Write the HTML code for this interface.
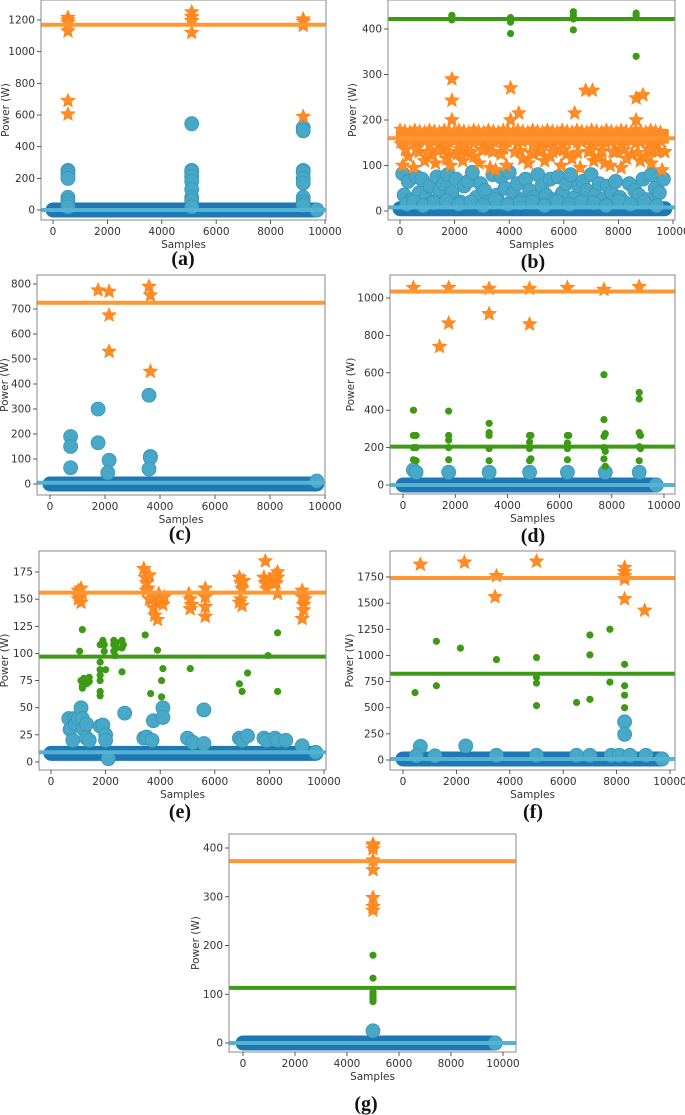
<!DOCTYPE html>
<html><head><meta charset="utf-8">
<style>
html,body{margin:0;padding:0;background:#fff;}
svg{display:block;}
.tk{font-family:"DejaVu Sans","Liberation Sans",sans-serif;font-size:10.5px;fill:#333;}
.al{font-family:"DejaVu Sans","Liberation Sans",sans-serif;font-size:10.5px;fill:#333;}
.cap{font-family:"Liberation Serif",serif;font-size:20px;font-weight:bold;fill:#111;}
</style></head>
<body>
<svg id="fig" width="685" height="1115" viewBox="0 0 685 1115" xmlns="http://www.w3.org/2000/svg"></svg>
<script>
// ---------- data (a) ----------
const aOrangeLine = 1170, aGreenLine = null, aLightLine = 0, aBand = 0;
const aStarX = [550,550,550,550,550,550,5100,5100,5100,5100,9200,9200,9200,9200];
const aStarY = [1215,1200,1185,1130,690,605,1250,1220,1195,1120,1205,1190,1165,590];
const aGreenX = [], aGreenY = [];
const aCircX = [550,550,550,550,550,550,550,550,5100,5100,5100,5100,5100,5100,5100,5100,5100,9200,9200,9200,9200,9200,9200,9200,9200,9200,9700];
const aCircY = [250,240,220,200,80,60,40,20,545,250,240,210,180,130,80,60,20,520,500,250,240,200,170,80,50,30,0];
// ---------- data (b) ----------
const bOrangeLine = 160, bGreenLine = 422, bLightLine = 8, bBand = 5, bOrangeBand = [148,180];
const bStarX = [1900,1900,1900,4050,4050,4350,6400,6800,7050,8650,8900,8650,
  100,300,500,700,900,1100,1300,1500,1700,1850,2100,2300,2500,2700,2900,3100,3300,3500,3700,3900,4200,4500,4700,4900,5100,5300,5500,5700,5900,6100,6300,6600,6900,7100,7300,7500,7700,7900,8100,8300,8500,8800,9000,9200,9400,9600,
  200,600,1000,1400,1800,2200,2600,3000,3400,3800,4400,4800,5200,5600,6000,6500,7000,7400,7800,8200,8700,9100,9500,9700];
const bStarY = [290,243,200,270,200,215,215,265,265,248,255,200,
  100,120,95,130,110,125,105,135,115,100,125,110,130,120,105,135,95,90,125,100,130,115,105,125,130,110,120,135,100,125,115,95,130,110,120,105,100,130,95,115,125,110,120,105,130,90,
  135,138,128,132,130,136,128,134,130,138,132,128,136,130,134,128,136,132,130,134,128,136,132,130];
const bGreenX = [1900,1900,1900,4050,4050,4050,4050,6350,6350,6350,6350,8650,8650,8650];
const bGreenY = [430,425,420,425,420,415,390,438,430,422,398,435,430,340];
const bCircX = [100,150,300,450,600,700,800,950,1100,1200,1350,1450,1600,1750,1900,2050,2200,2350,2500,2650,2800,2950,3100,3250,3400,3550,3700,3850,4000,4150,4300,4450,4600,4750,4900,5050,5200,5350,5500,5650,5800,5950,6100,6250,6400,6550,6700,6850,7000,7150,7300,7450,7600,7750,7900,8050,8200,8400,8600,8750,8900,9050,9200,9350,9500,9650,
  250,500,850,1250,1700,2150,2600,3050,3500,3950,4400,4850,5300,5750,6200,6650,7100,7550,8000,8450,8950,9400];
const bCircY = [82,35,65,25,75,40,70,30,55,20,75,45,60,80,40,70,20,55,65,85,30,60,45,20,80,35,75,50,85,40,60,25,70,45,30,80,55,35,70,25,75,40,60,80,30,55,65,45,80,35,60,25,55,40,65,30,20,60,45,35,70,25,80,50,40,70,
  15,20,12,18,22,15,20,12,25,15,18,20,12,22,15,20,18,12,22,15,20,12];
// ---------- data (c) ----------
const cOrangeLine = 725, cGreenLine = null, cLightLine = 5, cBand = 0;
const cStarX = [1750,2150,2150,2150,3600,3650,3650];
const cStarY = [775,770,675,530,790,755,450];
const cGreenX = [], cGreenY = [];
const cCircX = [750,750,750,1750,1750,2150,2100,3600,3650,3650,3600,9700];
const cCircY = [190,150,65,300,165,95,45,355,110,105,60,12];
// ---------- data (d) ----------
const dOrangeLine = 1035, dGreenLine = 205, dLightLine = 0, dBand = 0;
const dStarX = [400,1750,3300,4850,6300,7700,9050,1400,1750,3300,4850];
const dStarY = [1055,1055,1050,1050,1055,1045,1060,740,865,915,860];
const dGreenX = [400,400,500,400,500,400,500,1750,1750,1750,1750,1750,3300,3300,3300,3300,3300,4850,4900,4850,4850,4900,4850,6300,6350,6300,6300,6300,7700,7700,7750,7700,7700,7750,7700,7750,9050,9050,9050,9100,9050,9100,9050];
const dGreenY = [400,265,265,200,200,135,130,395,265,240,200,135,330,280,265,195,130,265,265,230,195,140,130,265,265,225,195,135,590,350,275,260,200,180,140,100,495,460,280,265,205,195,130];
const dCircX = [400,500,1750,3300,4850,6300,7750,9050,9700];
const dCircY = [80,68,68,68,68,68,68,68,0];
// ---------- data (e) ----------
const eOrangeLine = 156, eGreenLine = 97, eLightLine = 9, eBand = 8;
const eStarX = [1000,1050,1100,1150,1000,1100,3400,3450,3500,3550,3600,3650,3700,3750,3800,3900,3850,3950,4000,4100,4150,3500,3600,5050,5100,5150,5100,5650,5650,5650,5650,6900,6950,7000,6950,6900,7000,7050,7850,7800,7850,7900,8000,8100,8300,8300,8250,8300,8200,9200,9200,9250,9250,9200,9300];
const eStarY = [158,152,147,155,150,160,178,170,165,160,172,155,150,142,135,131,148,155,150,145,152,158,150,155,150,145,141,160,152,143,134,170,165,160,150,147,144,167,185,170,165,160,168,165,175,170,165,155,172,158,152,145,140,132,150];
const eGreenX = [1050,1150,1100,1150,1150,1200,1300,1400,1400,1800,1800,1800,1800,1800,1800,1800,1900,1950,1950,2000,2300,2300,2300,2350,2400,2400,2600,2600,2650,2600,3450,3650,3900,4100,4050,4050,5100,6900,7000,7200,7950,8300,8300];
const eGreenY = [102,122,75,70,68,77,72,78,74,108,92,85,80,75,65,61,112,108,102,85,112,108,102,98,110,105,112,105,108,83,117,63,103,86,75,60,86,72,65,82,98,119,65];
const eCircX = [650,700,800,850,900,1000,1100,1150,1200,1300,1300,1400,1800,1900,2000,2000,2700,3400,3500,3700,3750,4100,4100,5000,5200,5600,5600,6900,7000,7200,7800,7900,8200,8300,8600,9200,2100,9700];
const eCircY = [40,30,20,40,35,40,50,40,30,35,22,20,33,34,25,20,45,22,23,20,38,50,41,22,18,48,17,22,20,24,22,20,22,20,20,15,3,9];
// ---------- data (f) ----------
const fOrangeLine = 1740, fGreenLine = 825, fLightLine = 10, fBand = 10;
const fStarX = [650,2300,3500,3450,5000,8300,8300,8300,8300,8300,9050];
const fStarY = [1870,1890,1760,1560,1900,1840,1800,1760,1730,1540,1430];
const fGreenX = [450,1250,1250,2150,3500,5000,5000,5000,5000,6500,7000,7000,7000,7750,7750,8300,8300,8300,8300];
const fGreenY = [645,1135,710,1070,960,980,790,735,520,550,1195,1005,580,1250,745,915,710,620,500];
const fCircX = [650,2350,8300,8300,500,1200,3500,5000,6500,7000,7800,8100,8500,9100,9700];
const fCircY = [130,135,365,245,40,40,45,45,45,45,45,45,45,45,10];
// ---------- data (g) ----------
const gOrangeLine = 373, gGreenLine = 113, gLightLine = 0, gBand = 0;
const gStarX = [5000,5000,5000,5000,5000,5000,5000,5000];
const gStarY = [408,405,398,375,355,298,280,272];
const gGreenX = [5000,5000,5000,5000,5000,5000,5000];
const gGreenY = [180,133,105,100,95,90,85];
const gCircX = [5000,9700];
const gCircY = [25,0];

const xTickVals = [0,2000,4000,6000,8000,10000];

const SVGNS = "http://www.w3.org/2000/svg";
const fig = document.getElementById('fig');
function mk(tag, attrs, parent){
  const e = document.createElementNS(SVGNS, tag);
  for (const k in attrs) e.setAttribute(k, attrs[k]);
  (parent||fig).appendChild(e);
  return e;
}
function starPath(cx, cy, R){
  const r = R*0.45; let d = '';
  for (let i=0;i<10;i++){
    const rad = (i%2===0)?R:r;
    const a = -Math.PI/2 + i*Math.PI/5;
    d += (i===0?'M':'L') + (cx+rad*Math.cos(a)).toFixed(1) + ',' + (cy+rad*Math.sin(a)).toFixed(1);
  }
  return d+'Z';
}

function drawPanel(L, D){
  const g = mk('g', {});
  
  
  const xs = v => L.x0 + v/10000*(L.x10 - L.x0);
  const ys = v => L.y0 + v/L.yk*(L.yK - L.y0);
  const clipId = 'clip'+L.id;
  const cp = mk('clipPath', {id:clipId}, g);
  mk('rect', {x:L.l, y:L.t, width:L.r-L.l, height:L.b-L.t}, cp);
  const plot = mk('g', {'clip-path':'url(#'+clipId+')'}, g);
  
  
  const band = mk('line', {x1:xs(0), x2:xs(9700), y1:ys(D.band), y2:ys(D.band), stroke:'#1f77b4', 'stroke-width':15, 'stroke-linecap':'round'}, plot);
  
  
  D.cx.forEach((v,i)=>{
    const c = mk('circle', {cx:xs(v), cy:ys(D.cy[i]), r:7, fill:'#48a8c8', stroke:'#3a95b8', 'stroke-width':0.8}, plot);
    
    
  });
  if (D.ob){
    const ob = mk('rect', {x:xs(0)-4, y:ys(D.ob[1]), width:xs(9700)-xs(0)+8, height:ys(D.ob[0])-ys(D.ob[1]), fill:'#ff8a1e'}, plot);
    
    
    // jagged star edges of the dense band
    for (let v=0; v<=9700; v+=180){
      [D.ob[1], D.ob[0]].forEach((yv,k)=>{
        const s = mk('path', {d:starPath(xs(v), ys(yv) + (k===0?1:-1)*((v/180)%3), 7), fill:'#ff8c26'}, plot);
        
        
      });
    }
  }
  D.gx.forEach((v,i)=>{
    const c = mk('circle', {cx:xs(v), cy:ys(D.gy[i]), r:3.6, fill:'#3c9a14'}, plot);
    
    
  });
  D.sx.forEach((v,i)=>{
    const s = mk('path', {d:starPath(xs(v), ys(D.sy[i]), 7.5), fill:'#ff8c26', stroke:'#ff7f0e', 'stroke-width':0.6}, plot);
    
    
  });
  const lines = [[D.ol,'#ff9833','orange-centroid-line'],[D.gl,'#3c9a14','green-centroid-line'],[D.ll,'#52b4d2','blue-centroid-line']];
  lines.forEach(([v,col,nm])=>{
    if (v===null || v===undefined) return;
    const ln = mk('line', {x1:L.l, x2:L.r, y1:ys(v), y2:ys(v), stroke:col, 'stroke-width':4}, plot);
    
    
  });
  const fr = mk('rect', {x:L.l, y:L.t, width:L.r-L.l, height:L.b-L.t, fill:'none', stroke:'#8a8a8a', 'stroke-width':1}, g);
  
  
  xTickVals.forEach(v=>{
    const px = xs(v);
    mk('line', {x1:px, x2:px, y1:L.b, y2:L.b+4, stroke:'#333', 'stroke-width':0.8}, g);
    const t = mk('text', {x:px, y:L.b+15, 'text-anchor':'middle', class:'tk'}, g);
    t.textContent = String(v);
    
    
  });
  L.yt.forEach(v=>{
    const py = ys(v);
    mk('line', {x1:L.l-4, x2:L.l, y1:py, y2:py, stroke:'#333', 'stroke-width':0.8}, g);
    const t = mk('text', {x:L.l-6, y:py+3.5, 'text-anchor':'end', class:'tk'}, g);
    t.textContent = String(v);
    
    
  });
  const xl = mk('text', {x:(L.l+L.r)/2, y:L.b+28, 'text-anchor':'middle', class:'al'}, g);
  xl.textContent = 'Samples';
  
  
  const yc = (L.t+L.b)/2;
  const yl = mk('text', {x:L.yl, y:yc, 'text-anchor':'middle', class:'al', transform:'rotate(-90 '+L.yl+' '+yc+')'}, g);
  yl.textContent = 'Power (W)';
  
  
  const cap = mk('text', {x:L.capx, y:L.capy, 'text-anchor':'middle', class:'cap'}, g);
  cap.textContent = '(' + L.id + ')';
  
  
}

drawPanel({id:'a', l:41, r:326, t:0, b:220, x0:53, x10:325, y0:210, yk:1200, yK:20, yt:[0,200,400,600,800,1000,1200], yl:9, capx:183, capy:265},
  {band:aBand, cx:aCircX, cy:aCircY, gx:aGreenX, gy:aGreenY, sx:aStarX, sy:aStarY, ol:aOrangeLine, gl:aGreenLine, ll:aLightLine});
drawPanel({id:'b', l:388, r:675, t:0, b:220, x0:400, x10:673, y0:211, yk:400, yK:29, yt:[0,100,200,300,400], yl:356, capx:533, capy:268},
  {band:bBand, ob:bOrangeBand, cx:bCircX, cy:bCircY, gx:bGreenX, gy:bGreenY, sx:bStarX, sy:bStarY, ol:bOrangeLine, gl:bGreenLine, ll:bLightLine});
drawPanel({id:'c', l:37, r:325, t:275, b:495, x0:50, x10:325, y0:484, yk:800, yK:284, yt:[0,100,200,300,400,500,600,700,800], yl:8, capx:180, capy:540},
  {band:cBand, cx:cCircX, cy:cCircY, gx:cGreenX, gy:cGreenY, sx:cStarX, sy:cStarY, ol:cOrangeLine, gl:cGreenLine, ll:cLightLine});
drawPanel({id:'d', l:390, r:675, t:275, b:494, x0:403, x10:664, y0:485, yk:1000, yK:298, yt:[0,200,400,600,800,1000], yl:354, capx:533, capy:542},
  {band:dBand, cx:dCircX, cy:dCircY, gx:dGreenX, gy:dGreenY, sx:dStarX, sy:dStarY, ol:dOrangeLine, gl:dGreenLine, ll:dLightLine});
drawPanel({id:'e', l:39, r:326, t:551, b:770, x0:51, x10:324, y0:762, yk:175, yK:572, yt:[0,25,50,75,100,125,150,175], yl:8, capx:180, capy:818},
  {band:eBand, cx:eCircX, cy:eCircY, gx:eGreenX, gy:eGreenY, sx:eStarX, sy:eStarY, ol:eOrangeLine, gl:eGreenLine, ll:eLightLine});
drawPanel({id:'f', l:390, r:675, t:551, b:770, x0:403, x10:670, y0:760, yk:1750, yK:577, yt:[0,250,500,750,1000,1250,1500,1750], yl:353, capx:533, capy:818},
  {band:fBand, cx:fCircX, cy:fCircY, gx:fGreenX, gy:fGreenY, sx:fStarX, sy:fStarY, ol:fOrangeLine, gl:fGreenLine, ll:fLightLine});
drawPanel({id:'g', l:229, r:516, t:834, b:1052, x0:243, x10:503, y0:1043, yk:400, yK:848, yt:[0,100,200,300,400], yl:199, capx:366, capy:1110},
  {band:gBand, cx:gCircX, cy:gCircY, gx:gGreenX, gy:gGreenY, sx:gStarX, sy:gStarY, ol:gOrangeLine, gl:gGreenLine, ll:gLightLine});
</script>
</body></html>
